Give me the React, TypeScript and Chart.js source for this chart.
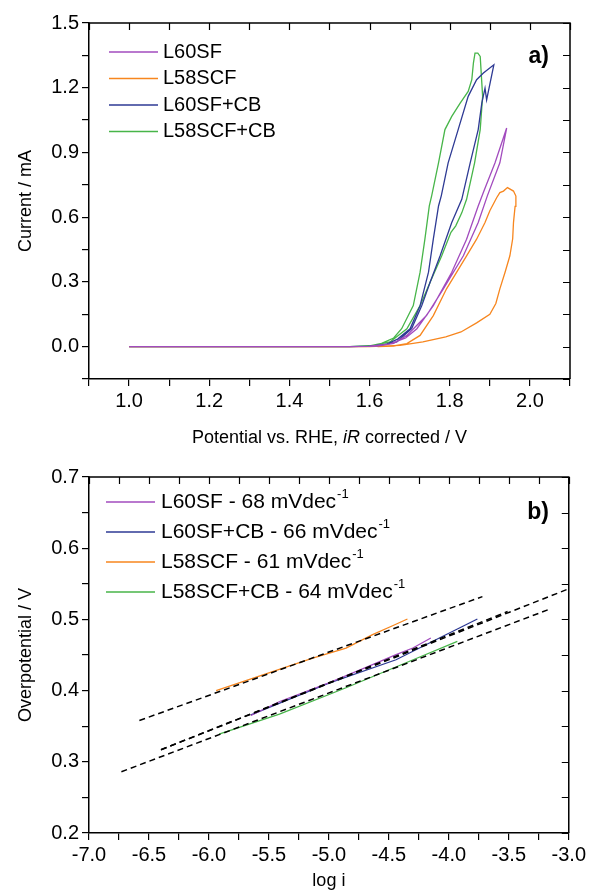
import React, { useEffect, useRef } from 'react';
import { Chart, registerables } from 'chart.js';

Chart.register(...registerables);

const FONT = '"Liberation Sans", Arial, Helvetica, sans-serif';

const PURPLE = '#A24BBE';
const ORANGE = '#F7861E';
const BLUE = '#2E3A94';
const GREEN = '#47B549';

// ---------- Panel a) : potential (V) vs current (mA) ----------
const l60sfV = [1.0, 1.3, 1.55, 1.6, 1.62, 1.66, 1.693, 1.742, 1.784, 1.834, 1.871, 1.894, 1.925, 1.942, 1.913, 1.885, 1.871, 1.842, 1.805, 1.759, 1.718, 1.69, 1.65, 1.6];
const l60sfI = [0, 0, 0, 0.001, 0.003, 0.015, 0.052, 0.144, 0.268, 0.421, 0.575, 0.7, 0.852, 1.013, 0.852, 0.72, 0.652, 0.498, 0.345, 0.19, 0.083, 0.04, 0.012, 0.002];

const l58scfV = [1.0, 1.3, 1.55, 1.6, 1.676, 1.733, 1.79, 1.828, 1.867, 1.9, 1.915, 1.925, 1.938, 1.95, 1.957, 1.959, 1.963, 1.965, 1.959, 1.944, 1.934, 1.925, 1.917, 1.9, 1.888, 1.867, 1.842, 1.792, 1.759, 1.726, 1.693, 1.66, 1.62];
const l58scfI = [0, 0, 0, 0, 0.006, 0.022, 0.045, 0.068, 0.11, 0.15, 0.2, 0.268, 0.345, 0.421, 0.5, 0.575, 0.65, 0.698, 0.721, 0.737, 0.721, 0.714, 0.69, 0.63, 0.575, 0.498, 0.421, 0.268, 0.144, 0.052, 0.014, 0.003, 0];

const l60sfCbV = [1.0, 1.3, 1.55, 1.6, 1.64, 1.67, 1.701, 1.726, 1.747, 1.759, 1.772, 1.779, 1.796, 1.821, 1.846, 1.867, 1.884, 1.91, 1.892, 1.888, 1.88, 1.871, 1.851, 1.83, 1.805, 1.776, 1.751, 1.73, 1.705, 1.668, 1.62];
const l60sfCbI = [0, 0, 0, 0.002, 0.01, 0.035, 0.083, 0.19, 0.345, 0.498, 0.652, 0.7, 0.852, 1.006, 1.16, 1.237, 1.268, 1.306, 1.144, 1.198, 1.129, 1.006, 0.852, 0.683, 0.575, 0.421, 0.298, 0.19, 0.083, 0.022, 0.003];

const l58scfCbV = [1.0, 1.3, 1.55, 1.6, 1.63, 1.66, 1.68, 1.709, 1.726, 1.738, 1.749, 1.755, 1.772, 1.788, 1.805, 1.826, 1.846, 1.855, 1.859, 1.863, 1.87, 1.876, 1.882, 1.876, 1.862, 1.842, 1.83, 1.815, 1.803, 1.78, 1.751, 1.726, 1.693, 1.651, 1.6];
const l58scfCbI = [0, 0, 0, 0.004, 0.015, 0.04, 0.083, 0.19, 0.345, 0.498, 0.652, 0.7, 0.852, 1.006, 1.067, 1.129, 1.183, 1.237, 1.314, 1.36, 1.36, 1.345, 1.16, 1.006, 0.852, 0.683, 0.62, 0.56, 0.53, 0.421, 0.298, 0.19, 0.083, 0.022, 0.003];

const legendA = ['L60SF', 'L58SCF', 'L60SF+CB', 'L58SCF+CB'];
const colorsA = [PURPLE, ORANGE, BLUE, GREEN];

// ---------- Panel b) : Tafel plots, log i vs overpotential (V) ----------
const tafelL60sfX = [-5.65, -5.41, -5.0, -4.7, -4.44, -4.3, -4.15];
const tafelL60sfY = [0.365, 0.3847, 0.411, 0.432, 0.4504, 0.4598, 0.4738];
const tafelL60sfCbX = [-5.65, -5.4, -5.0, -4.44, -4.025, -3.887, -3.762];
const tafelL60sfCbY = [0.366, 0.383, 0.4105, 0.4433, 0.4785, 0.49, 0.5006];
const tafelL58scfX = [-5.94, -5.55, -5.135, -4.857, -4.636, -4.469, -4.345];
const tafelL58scfY = [0.4, 0.4222, 0.4457, 0.4598, 0.4785, 0.4911, 0.5006];
const tafelL58scfCbX = [-5.916, -5.412, -4.857, -4.302, -3.929];
const tafelL58scfCbY = [0.339, 0.367, 0.404, 0.443, 0.469];

// linear fits (end points)
const fitL60sfX = [-6.4, -3.51];
const fitL60sfY = [0.317, 0.511];
const fitL60sfCbX = [-6.4, -3.0];
const fitL60sfCbY = [0.317, 0.543];
const fitL58scfX = [-6.58, -3.72];
const fitL58scfY = [0.358, 0.532];
const fitL58scfCbX = [-6.73, -3.15];
const fitL58scfCbY = [0.286, 0.515];

const legendB = ['L60SF - 68 mVdec', 'L60SF+CB - 66 mVdec', 'L58SCF - 61 mVdec', 'L58SCF+CB - 64 mVdec'];
const colorsB = [PURPLE, BLUE, ORANGE, GREEN];

const zip = (xs: number[], ys: number[]) => xs.map((x, i) => ({ x, y: ys[i] }));

const framePlugin = {
  id: 'frameInner',
  afterDraw(chart: any) {
    const { ctx, chartArea } = chart;
    const { left, right, top, bottom } = chartArea;
    const xs = chart.scales.x;
    const ys = chart.scales.y;
    ctx.save();
    ctx.strokeStyle = '#000';
    ctx.lineWidth = 1.5;
    ctx.beginPath();
    ctx.moveTo(left, top);
    ctx.lineTo(right, top);
    ctx.lineTo(right, bottom);
    ctx.stroke();
    ctx.lineWidth = 1.2;
    ctx.beginPath();
    xs.ticks.forEach((t: any) => {
      const px = Math.round(xs.getPixelForValue(t.value)) + 0.5;
      ctx.moveTo(px, top);
      ctx.lineTo(px, top + 7);
    });
    ys.ticks.forEach((t: any) => {
      const py = Math.round(ys.getPixelForValue(t.value)) + 0.5;
      ctx.moveTo(right, py);
      ctx.lineTo(right - 7, py);
    });
    ctx.stroke();
    ctx.restore();
  },
};

function makeLegend(id: string, labels: string[], colors: string[], o: any) {
  return {
    id,
    afterDatasetsDraw(chart: any) {
      const ctx = chart.ctx;
      ctx.save();
      labels.forEach((lab, i) => {
        const y = o.y0 + i * o.dy;
        ctx.strokeStyle = colors[i];
        ctx.lineWidth = 1.5;
        ctx.beginPath();
        ctx.moveTo(o.x0, y);
        ctx.lineTo(o.x1, y);
        ctx.stroke();
        ctx.fillStyle = '#000';
        ctx.font = `${o.size}px ${FONT}`;
        ctx.textAlign = 'left';
        ctx.textBaseline = 'middle';
        ctx.fillText(lab, o.tx, y);
        if (o.sup) {
          const w = ctx.measureText(lab).width;
          ctx.font = `${o.supSize}px ${FONT}`;
          ctx.fillText(o.sup, o.tx + w + 1, y - 8);
        }
      });
      ctx.font = `bold ${o.tagSize}px ${FONT}`;
      ctx.textAlign = 'right';
      ctx.textBaseline = 'middle';
      ctx.fillStyle = '#000';
      ctx.fillText(o.tag, o.tagX, o.tagY);
      ctx.restore();
    },
  };
}

const xTitlePlugin = {
  id: 'xTitleA',
  afterDraw(chart: any) {
    const ctx = chart.ctx;
    const { left, right } = chart.chartArea;
    const parts = [
      { t: 'Potential vs. RHE, ', f: `18px ${FONT}` },
      { t: 'iR', f: `italic 18px ${FONT}` },
      { t: ' corrected / V', f: `18px ${FONT}` },
    ];
    ctx.save();
    let total = 0;
    parts.forEach((p) => { ctx.font = p.f; total += ctx.measureText(p.t).width; });
    let x = (left + right) / 2 - total / 2;
    ctx.fillStyle = '#000';
    ctx.textAlign = 'left';
    ctx.textBaseline = 'middle';
    parts.forEach((p) => { ctx.font = p.f; ctx.fillText(p.t, x, 438); x += ctx.measureText(p.t).width; });
    ctx.restore();
  },
};

function axisCommon(min: number, max: number, step: number, labelEvery: number, fit: (s: any) => void, title?: any) {
  return {
    type: 'linear',
    min,
    max,
    ticks: {
      stepSize: step,
      autoSkip: false,
      maxRotation: 0,
      minRotation: 0,
      color: '#000',
      padding: 3,
      font: { family: FONT, size: 20 },
      callback: (value: any) => {
        const v = Number(value);
        const k = Math.round(v / step);
        return Math.abs(k % labelEvery) === 0 ? v.toFixed(1) : '';
      },
    },
    grid: {
      display: true,
      drawOnChartArea: false,
      drawTicks: true,
      tickLength: 7,
      color: '#000',
      tickColor: '#000',
      lineWidth: 1.2,
      tickWidth: 1.2,
    },
    border: { display: true, color: '#000', width: 1.5 },
    title: title || { display: false },
    afterFit: fit,
  };
}

export default function App() {
  const topRef = useRef<HTMLCanvasElement>(null);
  const botRef = useRef<HTMLCanvasElement>(null);

  useEffect(() => {
    const line = (label: string, xs: number[], ys: number[], color: string) => ({
      label,
      data: zip(xs, ys),
      borderColor: color,
      backgroundColor: color,
      borderWidth: 1.3,
      showLine: true,
      pointRadius: 0,
      fill: false,
      tension: 0,
      order: 1,
    });
    const fit = (label: string, xs: number[], ys: number[]) => ({
      label,
      data: zip(xs, ys),
      borderColor: '#000',
      backgroundColor: '#000',
      borderWidth: 1.5,
      borderDash: [6, 4],
      showLine: true,
      pointRadius: 0,
      fill: false,
      order: 0,
    });

    const top = new Chart(topRef.current as HTMLCanvasElement, {
      type: 'scatter',
      data: {
        datasets: [
          line('L60SF', l60sfV, l60sfI, PURPLE),
          line('L58SCF', l58scfV, l58scfI, ORANGE),
          line('L60SF+CB', l60sfCbV, l60sfCbI, BLUE),
          line('L58SCF+CB', l58scfCbV, l58scfCbI, GREEN),
        ],
      },
      options: {
        responsive: false,
        animation: false,
        devicePixelRatio: 1,
        layout: { padding: { top: 23, right: 19, left: 0, bottom: 0 } },
        plugins: { legend: { display: false }, tooltip: { enabled: false } },
        scales: {
          x: axisCommon(0.9, 2.1, 0.1, 2, (s: any) => { s.height = 73; }) as any,
          y: axisCommon(-0.15, 1.5, 0.15, 2, (s: any) => { s.width = 89; }, {
            display: true,
            text: 'Current / mA',
            color: '#000',
            font: { family: FONT, size: 18 },
            padding: { top: 15, bottom: 0 },
          }) as any,
        },
      } as any,
      plugins: [
        framePlugin,
        xTitlePlugin,
        makeLegend('legendA', legendA, colorsA, {
          x0: 109, x1: 158, tx: 163, y0: 52, dy: 26.5, size: 20,
          tag: 'a)', tagX: 549, tagY: 57, tagSize: 23,
        }),
      ],
    });

    const bot = new Chart(botRef.current as HTMLCanvasElement, {
      type: 'scatter',
      data: {
        datasets: [
          line('L60SF', tafelL60sfX, tafelL60sfY, PURPLE),
          line('L60SF+CB', tafelL60sfCbX, tafelL60sfCbY, BLUE),
          line('L58SCF', tafelL58scfX, tafelL58scfY, ORANGE),
          line('L58SCF+CB', tafelL58scfCbX, tafelL58scfCbY, GREEN),
          fit('fit L60SF', fitL60sfX, fitL60sfY),
          fit('fit L60SF+CB', fitL60sfCbX, fitL60sfCbY),
          fit('fit L58SCF', fitL58scfX, fitL58scfY),
          fit('fit L58SCF+CB', fitL58scfCbX, fitL58scfCbY),
        ],
      },
      options: {
        responsive: false,
        animation: false,
        devicePixelRatio: 1,
        layout: { padding: { top: 25, right: 19, left: 0, bottom: 0 } },
        plugins: { legend: { display: false }, tooltip: { enabled: false } },
        scales: {
          x: axisCommon(-7, -3, 0.25, 2, (s: any) => { s.height = 59; }, {
            display: true,
            text: 'log i',
            color: '#000',
            font: { family: FONT, size: 18 },
            padding: { top: 0, bottom: 0 },
          }) as any,
          y: axisCommon(0.2, 0.7, 0.05, 2, (s: any) => { s.width = 89; }, {
            display: true,
            text: 'Overpotential / V',
            color: '#000',
            font: { family: FONT, size: 18 },
            padding: { top: 15, bottom: 0 },
          }) as any,
        },
      } as any,
      plugins: [
        framePlugin,
        makeLegend('legendB', legendB, colorsB, {
          x0: 106, x1: 155, tx: 161, y0: 50, dy: 30, size: 21, sup: '-1', supSize: 13,
          tag: 'b)', tagX: 549, tagY: 61, tagSize: 23,
        }),
      ],
    });

    return () => {
      top.destroy();
      bot.destroy();
    };
  }, []);

  return (
    <div style={{ position: 'absolute', left: 0, top: 0, width: 589, height: 892, background: '#fff' }}>
      <canvas ref={topRef} width={589} height={452} style={{ display: 'block', width: 589, height: 452 }} />
      <canvas ref={botRef} width={589} height={440} style={{ display: 'block', width: 589, height: 440 }} />
    </div>
  );
}
